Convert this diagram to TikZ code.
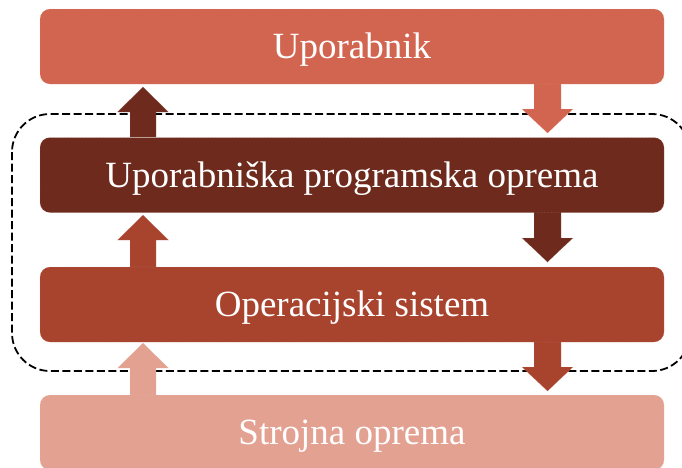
\documentclass[tikz,border=0pt]{standalone}
\usepackage{fontspec}
\setmainfont{Liberation Serif}
\usepackage{tikz}
\usepackage{xcolor}

\definecolor{userc}{HTML}{D26550}
\definecolor{appc}{HTML}{6E2B1D}
\definecolor{osc}{HTML}{A8432E}
\definecolor{hwc}{HTML}{E3A192}

\tikzset{
  layer/.style={rounded corners=10pt, minimum width=624pt, minimum height=75pt,
    inner sep=0pt, text=white, text height=24pt, text depth=0pt,
    font=\fontsize{37}{40}\selectfont},
  edge/.style={draw=#1!60!white, densely dotted, line width=0.4pt}
}

% block arrows: x centre, start y, tip y, colour
\newcommand{\arrowup}[4]{
\filldraw[fill=#4, edge=#4] (#1-13,#2) -- (#1-13,#3+25) -- (#1-25.5,#3+25) -- (#1,#3) -- (#1+25.5,#3+25) -- (#1+13,#3+25) -- (#1+13,#2) -- cycle;}
\newcommand{\arrowdown}[4]{
\filldraw[fill=#4, edge=#4] (#1-13.5,#2) -- (#1-13.5,#3-24) -- (#1-25.5,#3-24) -- (#1,#3) -- (#1+25.5,#3-24) -- (#1+13.5,#3-24) -- (#1+13.5,#2) -- cycle;}

\begin{document}
\begin{tikzpicture}[x=1pt,y=-1pt]
\useasboundingbox (0,0) rectangle (682,467);
\clip (0,0) rectangle (682,467);

\draw[line width=1.8pt, dash pattern=on 8pt off 3.5pt, rounded corners=38pt] (12,114) rectangle (690,371);

\arrowup{143}{137}{87}{appc}
\arrowdown{547.5}{84}{133}{userc}
\arrowup{143}{267}{215}{osc}
\arrowdown{547.5}{212}{262}{appc}
\arrowup{143}{395}{343}{hwc}
\arrowdown{547.5}{342}{391}{osc}

\node[layer, fill=userc, edge=userc] (user) at (352,46.5) {Uporabnik};
\node[layer, fill=appc, edge=appc] (app) at (352,175) {Uporabniška programska oprema};
\node[layer, fill=osc, edge=osc] (os) at (352,304.5) {Operacijski sistem};
\node[layer, fill=hwc, edge=hwc] (hw) at (352,432.5) {Strojna oprema};
\end{tikzpicture}
\end{document}
